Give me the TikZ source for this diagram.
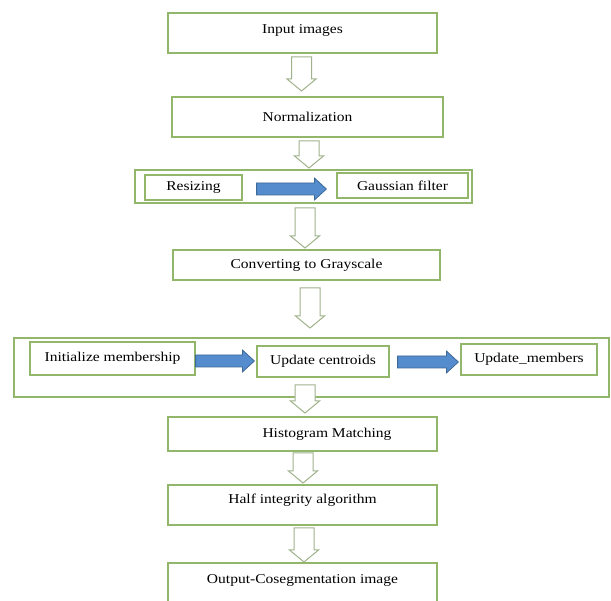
\documentclass[tikz,border=0pt]{standalone}
\usepackage{fontspec}
\setmainfont{Liberation Serif}[FakeStretch=1.15]
\usetikzlibrary{calc}
\definecolor{boxline}{RGB}{146,183,106}
\definecolor{hollowline}{RGB}{160,178,140}
\definecolor{flowblue}{RGB}{84,140,205}
\definecolor{flowedge}{RGB}{62,104,152}
\tikzset{
  box/.style={draw=boxline,line width=1.2pt,fill=white,inner sep=0pt,align=center},
  hollowarr/.style={draw=hollowline,line width=1pt,fill=white,line join=miter},
  bluearr/.style={draw=flowedge,line width=0.8pt,fill=flowblue,line join=miter},
}
% hollow block arrow pointing down, same x at both ends
\newcommand{\hollowdown}[2]{%
  \draw[hollowarr] ($(#1)+(-10,0)$) -- ($(#1)+(10,0)$) -- ($(#2)+(10,-12)$)
    -- ($(#2)+(14.5,-12)$) -- (#2) -- ($(#2)+(-14.5,-12)$) -- ($(#2)+(-10,-12)$) -- cycle;}
% filled block arrow pointing right, same y at both ends
\newcommand{\blueright}[2]{%
  \draw[bluearr] ($(#1)+(0,-6)$) -- ($(#2)+(-12,-6)$) -- ($(#2)+(-12,-11)$) -- (#2)
    -- ($(#2)+(-12,11)$) -- ($(#2)+(-12,6)$) -- ($(#1)+(0,6)$) -- cycle;}

\begin{document}
\begin{tikzpicture}[x=1pt,y=-1pt,font=\fontsize{13.5}{16}\selectfont]
    \useasboundingbox (0,0) rectangle (611,601);
    \clip (0,0) rectangle (611,601);

    \node[box,minimum width=269pt,minimum height=40pt,text depth=8pt] (inp) at (302.5,33) {Input images};
    \node[box,minimum width=271pt,minimum height=40pt] (norm) at (307.5,117) {Normalization};

    \node[box,minimum width=337pt,minimum height=33pt] (pre) at (303.5,186.5) {};
    \node[box,minimum width=97pt,minimum height=25pt] (resz) at (193.5,187.5) {Resizing};
    \node[box,minimum width=131pt,minimum height=25pt] (gauss) at (402.5,185.5) {Gaussian filter};

    \node[box,minimum width=267pt,minimum height=30pt] (gray) at (306.5,265) {Converting to Grayscale};

    \node[box,minimum width=595pt,minimum height=59pt] (fcm) at (311.5,367.5) {};
    \node[box,minimum width=165pt,minimum height=33pt] (init) at (112.5,358.5) {Initialize membership};
    \node[box,minimum width=132pt,minimum height=31pt] (cent) at (323,361.5) {Update centroids};
    \node[box,minimum width=136pt,minimum height=31pt] (memb) at (529,359.5) {Update\_members};

    \node[box,minimum width=269pt,minimum height=34pt] (hist) at (302.5,434) {\hspace*{49pt}Histogram Matching};
    \node[box,minimum width=269pt,minimum height=40pt,text depth=13pt] (half) at (302.5,505) {Half integrity algorithm};
    \node[box,minimum width=269pt,minimum height=50pt,text depth=17pt] (outp) at (302.5,588) {Output-Cosegmentation image};

    \coordinate (h1a) at (301.5,57);  \coordinate (h1b) at (301.5,91);
    \coordinate (h2a) at (309,141);   \coordinate (h2b) at (309,168);
    \coordinate (h3a) at (305,208);   \coordinate (h3b) at (305,248);
    \coordinate (h4a) at (310,288);   \coordinate (h4b) at (310,328);
    \coordinate (h5a) at (305,385);   \coordinate (h5b) at (305,413);
    \coordinate (h6a) at (303,453);   \coordinate (h6b) at (303,483);
    \coordinate (h7a) at (304,528);   \coordinate (h7b) at (304,562);
    \foreach \i in {1,...,7} {\hollowdown{h\i a}{h\i b}}

    \blueright{$(resz.east |- 0,189)+(14,0)$}{$(gauss.west |- 0,189)+(-10,0)$}
    \blueright{init.east |- 0,361}{$(cent.west |- 0,361)+(-2,0)$}
    \blueright{$(cent.east |- 0,362)+(8,0)$}{$(memb.west |- 0,362)+(-2,0)$}
  \end{tikzpicture}
\end{document}
